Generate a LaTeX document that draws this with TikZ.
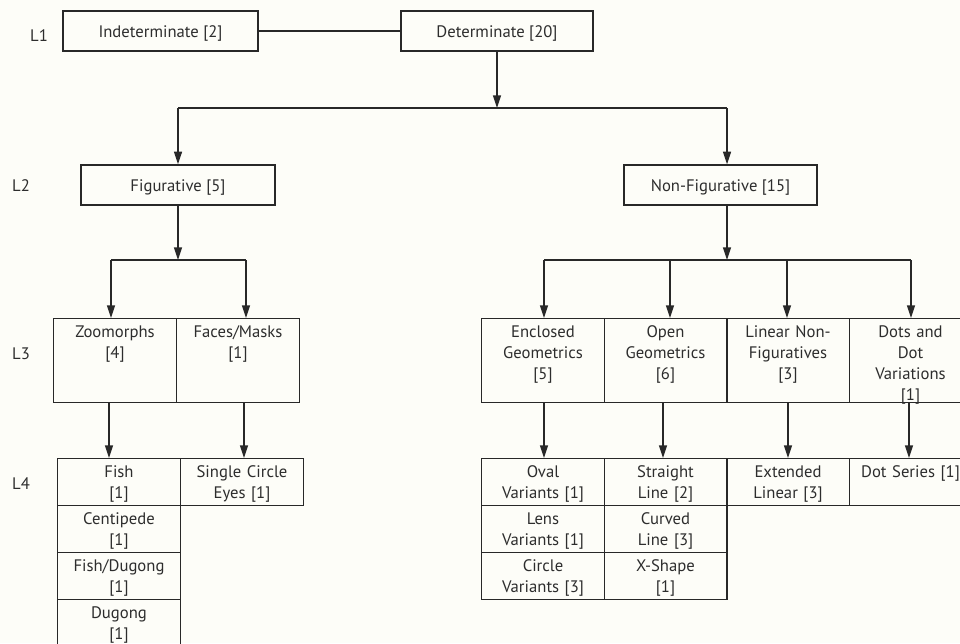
\documentclass[tikz,border=0pt]{standalone}
\usepackage{fontspec}
\setmainfont{PT Sans}
\usetikzlibrary{arrows.meta}

\definecolor{inkline}{RGB}{40,40,40}
\definecolor{inktext}{RGB}{45,45,45}
\definecolor{paper}{RGB}{253,253,248}
\newcommand{\chartfont}{\fontsize{12.5}{15.75}\selectfont}

\tikzset{every picture/.style={line width=0.75pt}}
\tikzset{
  lvl/.style={inner sep=0pt, text=inktext, font=\chartfont},
  headbox/.style={draw=inkline, line width=1pt, inner sep=0pt, minimum height=30pt,
    text height=10pt, text depth=0pt, text=inktext, font=\chartfont},
  cell/.style={draw=inkline, line width=1pt, anchor=north west, inner sep=0pt,
    align=center, text width=92pt, text height=14.25pt, text=inktext, font=\chartfont},
  cellthree/.style={cell, text depth=48.75pt},
  cellfour/.style={cell, text depth=21pt},
  conn/.style={draw=inkline, line width=1pt},
  arr/.style={conn, -{Triangle[length=9.5pt,width=6pt]}},
}

\begin{document}
\begin{tikzpicture}[x=0.75pt,y=0.75pt,yscale=-1,xscale=1]
\useasboundingbox (0,0) rectangle (960,643);
\fill[paper] (0,0) rectangle (960,643);

% Level labels
\node[lvl] (lab1) at (39,36) {L1};
\node[lvl] (lab2) at (21,186) {L2};
\node[lvl] (lab3) at (21,354) {L3};
\node[lvl] (lab4) at (21,484) {L4};

% L1
\node[headbox, minimum width=146.25pt] (indet) at (160.5,31) {Indeterminate [2]};
\node[headbox, minimum width=144pt] (det) at (497,31) {Determinate [20]};
% L2
\node[headbox, minimum width=145.5pt] (fig) at (178,185) {Figurative [5]};
\node[headbox, minimum width=144.75pt] (nonfig) at (720.5,185) {Non-Figurative [15]};

% L3 figurative
\node[cellthree] (zoom) at (53,318) {Zoomorphs\\{[4]}};
\node[cellthree] (faces) at (176,318) {Faces/Masks\\{[1]}};
% L3 non-figurative
\node[cellthree] (encl) at (481,318) {Enclosed\\Geometrics\\{[5]}};
\node[cellthree] (open) at (603.5,318) {Open\\Geometrics\\{[6]}};
\node[cellthree] (linear) at (726,318) {Linear Non-\\Figuratives\\{[3]}};
\node[cellthree] (dots) at (848.5,318) {Dots and\\Dot\\Variations\\{[1]}};

% L4 figurative
\node[cellfour] (fish) at (57,458) {Fish\\{[1]}};
\node[cellfour] (centi) at (57,505) {Centipede\\{[1]}};
\node[cellfour] (fishdug) at (57,552) {Fish/Dugong\\{[1]}};
\node[cellfour] (dugong) at (57,599) {Dugong\\{[1]}};
\node[cellfour] (single) at (180,458) {Single Circle\\Eyes [1]};
% L4 non-figurative
\node[cellfour] (oval) at (481,458) {Oval\\Variants [1]};
\node[cellfour] (lens) at (481,505) {Lens\\Variants [1]};
\node[cellfour] (circ) at (481,552) {Circle\\Variants [3]};
\node[cellfour] (straight) at (603.5,458) {Straight\\Line [2]};
\node[cellfour] (curved) at (603.5,505) {Curved\\Line [3]};
\node[cellfour] (xshape) at (603.5,552) {X-Shape\\{[1]}};
\node[cellfour] (extlin) at (726,458) {Extended\\Linear [3]};
\node[cellfour] (dotser) at (848.5,458) {Dot Series [1]};

%Straight Lines: L1
\draw[conn] (indet.east) -- (det.west);
\coordinate (forkA) at (det.south |- 0,108);
\coordinate (forkAl) at (fig.north |- 0,108);
\coordinate (forkAr) at (727,108);
\draw[arr] (det.south) -- (forkA);
\draw[conn] (forkAl) -- (forkAr);
\draw[arr] (forkAl) -- (fig.north);
\draw[arr] (forkAr) -- (forkAr |- nonfig.north);

%Straight Lines: L2 -> L3
\coordinate (forkB) at (fig.south |- 0,260);
\coordinate (forkBl) at (111,260);
\coordinate (forkBr) at (246,260);
\draw[arr] (fig.south) -- (forkB);
\draw[conn] (forkBl) -- (forkBr);
\draw[arr] (forkBl) -- (forkBl |- zoom.north);
\draw[arr] (forkBr) -- (forkBr |- faces.north);

\coordinate (forkC) at (727,260);
\coordinate (forkCl) at (544,260);
\coordinate (forkCr) at (911,260);
\draw[arr] (forkC |- nonfig.south) -- (forkC);
\draw[conn] (forkCl) -- (forkCr);
\foreach \x/\t in {544/encl, 670/open, 787/linear, 911/dots}
  \draw[arr] (\x,260) -- (\x,0 |- \t.north);

%Straight Lines: L3 -> L4
\foreach \x/\s/\t in {109/zoom/fish, 244/faces/single, 544/encl/oval,
                      663/open/straight, 788/linear/extlin, 909/dots/dotser}
  \draw[arr] (\x,0 |- \s.south) -- (\x,0 |- \t.north);

\end{tikzpicture}
\end{document}
